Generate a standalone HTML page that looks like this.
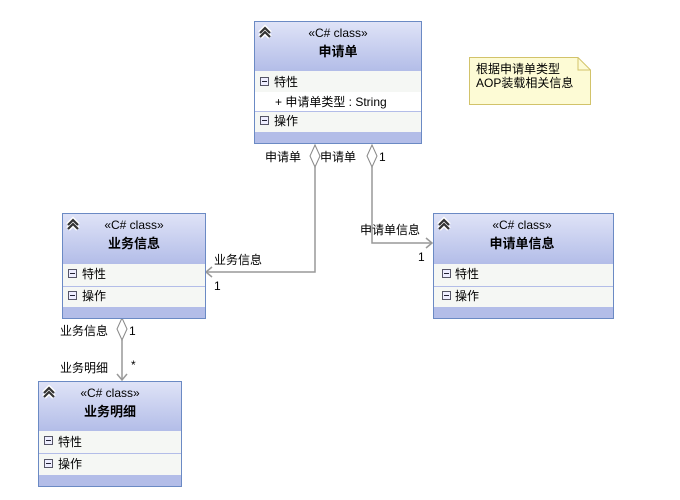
<!DOCTYPE html>
<html><head><meta charset="utf-8"><style>
body{margin:0;background:#fff}
text{font-family:"Liberation Sans","Noto Sans CJK SC",sans-serif;font-size:12px;fill:#000}
.b{font-weight:bold;font-size:13px}
</style></head><body>
<svg width="680" height="495" xmlns="http://www.w3.org/2000/svg">
<defs>
<linearGradient id="h" x1="0" y1="0" x2="0" y2="1"><stop offset="0" stop-color="#dfe3f7"/><stop offset="1" stop-color="#b3bde8"/></linearGradient>
<g id="chev"><path d="M1 8 L6 3 L11 8 M1 12 L6 7 L11 12" stroke="#fff" stroke-width="5" fill="none"/><path d="M1 8 L6 3 L11 8 M1 12 L6 7 L11 12" stroke="#333" stroke-width="2.2" fill="none"/></g>
<g id="minus"><rect x="0.5" y="0.5" width="8" height="8" fill="#eef" stroke="#556"/><line x1="2" y1="4.5" x2="7" y2="4.5" stroke="#223"/></g>
</defs>
<g stroke="#999" stroke-width="1.5" fill="none">
<polyline points="315,167 315,272 206,272"/>
<polyline points="212,267 206,272 212,277"/>
<polyline points="372,167 372,243 432,243"/>
<polyline points="426,238 432,243 426,248"/>
<polyline points="122,340 122,380"/>
<polyline points="117,374 122,380 127,374"/>
</g>
<g stroke="#888" fill="#fff">
<polygon points="315,145 320,156 315,167 310,156"/>
<polygon points="372,145 377,156 372,167 367,156"/>
<polygon points="122,318 127,329 122,340 117,329"/>
</g>
<rect x="254.5" y="21.5" width="167" height="122" fill="#b3bde8" stroke="#6b8ac4"/>
<rect x="255" y="22" width="166" height="49" fill="url(#h)"/>
<rect x="255" y="71" width="166" height="21" fill="#f5f7f4"/>
<rect x="255" y="92" width="166" height="19" fill="#fff"/>
<rect x="255" y="111" width="166" height="21" fill="#f5f7f4"/>
<line x1="255" y1="111.5" x2="421" y2="111.5" stroke="#b3bde8"/>
<use href="#chev" x="259" y="25"/>
<text x="338" y="37" text-anchor="middle">«C# class»</text>
<text x="338" y="56" text-anchor="middle" class="b">申请单</text>
<use href="#minus" x="260" y="77"/><text x="274" y="86">特性</text>
<text x="275" y="106">+ 申请单类型 : String</text>
<use href="#minus" x="260" y="116"/><text x="274" y="125">操作</text>
<g>
<rect x="62.5" y="213.5" width="143" height="105" fill="#b3bde8" stroke="#6b8ac4"/>
<rect x="63" y="214" width="142" height="50" fill="url(#h)"/>
<rect x="63" y="264" width="142" height="43" fill="#f5f7f4"/>
<line x1="63" y1="286.5" x2="205" y2="286.5" stroke="#b3bde8"/>
<use href="#chev" x="67" y="217"/>
<text x="134" y="229" text-anchor="middle">«C# class»</text>
<text x="134" y="248" text-anchor="middle" class="b">业务信息</text>
<use href="#minus" x="68" y="269"/><text x="82" y="278">特性</text>
<use href="#minus" x="68" y="291"/><text x="82" y="300">操作</text>
</g>
<g>
<rect x="433.5" y="213.5" width="180" height="105" fill="#b3bde8" stroke="#6b8ac4"/>
<rect x="434" y="214" width="179" height="50" fill="url(#h)"/>
<rect x="434" y="264" width="179" height="43" fill="#f5f7f4"/>
<line x1="434" y1="286.5" x2="613" y2="286.5" stroke="#b3bde8"/>
<use href="#chev" x="438" y="217"/>
<text x="522" y="229" text-anchor="middle">«C# class»</text>
<text x="522" y="248" text-anchor="middle" class="b">申请单信息</text>
<use href="#minus" x="442" y="269"/><text x="455" y="278">特性</text>
<use href="#minus" x="442" y="291"/><text x="455" y="300">操作</text>
</g>
<g>
<rect x="38.5" y="381.5" width="143" height="105" fill="#b3bde8" stroke="#6b8ac4"/>
<rect x="39" y="382" width="142" height="49" fill="url(#h)"/>
<rect x="39" y="431" width="142" height="44" fill="#f5f7f4"/>
<line x1="39" y1="453.5" x2="181" y2="453.5" stroke="#b3bde8"/>
<use href="#chev" x="43" y="385"/>
<text x="110" y="397" text-anchor="middle">«C# class»</text>
<text x="110" y="416" text-anchor="middle" class="b">业务明细</text>
<use href="#minus" x="44" y="436"/><text x="58" y="446">特性</text>
<use href="#minus" x="44" y="459"/><text x="58" y="468">操作</text>
</g>
<polygon points="469.5,57.5 578,57.5 590.5,70 590.5,104.5 469.5,104.5" fill="#fdfbd5" stroke="#d2c36a"/>
<polyline points="578,57.5 578,70 590.5,70" fill="none" stroke="#d2c36a"/>
<text x="476" y="73">根据申请单类型</text>
<text x="476" y="87">AOP装载相关信息</text>
<text x="265" y="161">申请单</text>
<text x="320" y="161">申请单</text>
<text x="379" y="161">1</text>
<text x="360" y="234">申请单信息</text>
<text x="418" y="261">1</text>
<text x="214" y="264">业务信息</text>
<text x="214" y="290">1</text>
<text x="60" y="335">业务信息</text>
<text x="129" y="335">1</text>
<text x="60" y="372">业务明细</text>
<text x="131" y="369">*</text>
</svg>
</body></html>
